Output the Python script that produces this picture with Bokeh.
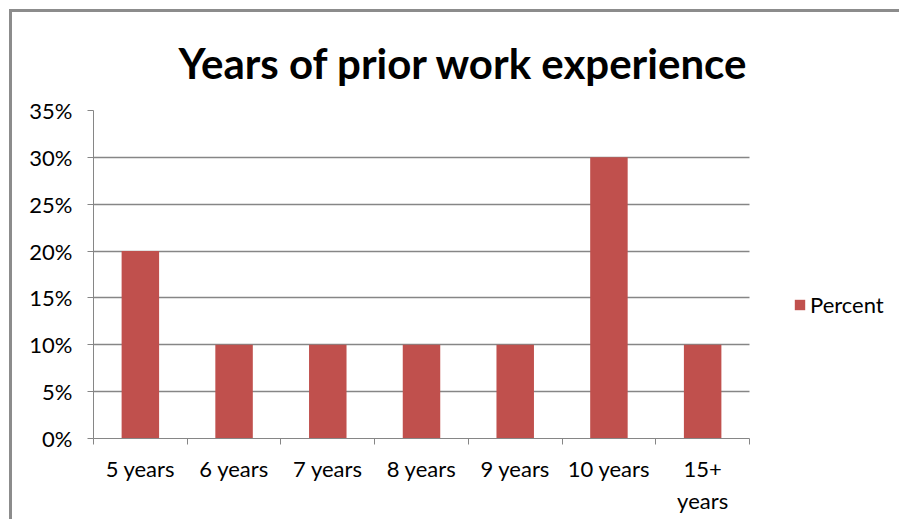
from bokeh.plotting import figure
from bokeh.models import (ColumnDataSource, FixedTicker, NumeralTickFormatter,
                          Legend, LegendItem, Range1d)
from bokeh.embed import file_html
from bokeh.resources import INLINE

# ---- data ----
title_text = "Years of prior work experience"
categories = ["5 years", "6 years", "7 years", "8 years", "9 years", "10 years", "15+ years"]
tick_labels = ["5 years", "6 years", "7 years", "8 years", "9 years", "10 years", "15+\nyears"]
percent = [0.20, 0.10, 0.10, 0.10, 0.10, 0.30, 0.10]
y_ticks = [0.0, 0.05, 0.10, 0.15, 0.20, 0.25, 0.30, 0.35]
series_name = "Percent"

n = len(categories)
centers = [i + 0.5 for i in range(n)]
bounds = list(range(n + 1))
src = ColumnDataSource(dict(x=centers, pct=percent, cat=categories))

FONT = "Lato"
GRAY = "#868686"
BAR = "#C0504D"
TXT = "#000000"

# layout (pixels)
W, H = 890, 510
LEFT, RIGHT, TOP, BOTTOM = 81, 10, 98, 84
PLOT_W = 656                      # width used by the 7 categories
frame_w = W - LEFT - RIGHT
x_end = n * frame_w / PLOT_W      # extra room on the right holds the legend

p = figure(width=W, height=H,
           x_range=Range1d(0, x_end), y_range=Range1d(y_ticks[0], y_ticks[-1]),
           output_backend="svg", toolbar_location=None,
           min_border_left=LEFT, min_border_right=RIGHT,
           min_border_top=TOP, min_border_bottom=BOTTOM)
p.styles = {"border-top": "3px solid #8c8c8c", "border-left": "3px solid #8c8c8c",
            "margin-top": "9px", "margin-left": "9px"}
p.outline_line_color = None
p.background_fill_color = "white"
p.border_fill_color = "white"

r = p.vbar(x="x", top="pct", width=0.4, source=src,
           fill_color=BAR, line_color=None)

# title
p.title.text = title_text
p.title.align = "left"
p.title.offset = 85
p.title.standoff = 45
p.title.text_font = FONT
p.title.text_font_style = "bold"
p.title.text_font_size = "42px"
p.title.text_color = TXT

# x axis: labels at centers, tick marks at boundaries
p.xaxis.bounds = (0, n)
p.xaxis.ticker = FixedTicker(ticks=centers, minor_ticks=bounds)
p.xaxis.major_label_overrides = {c: t for c, t in zip(centers, tick_labels)}
p.xaxis.major_tick_line_color = None
p.xaxis.major_tick_out = 0
p.xaxis.major_tick_in = 0
p.xaxis.minor_tick_line_color = GRAY
p.xaxis.minor_tick_out = 6
p.xaxis.minor_tick_in = 0
p.xaxis.axis_line_color = GRAY
p.xaxis.major_label_standoff = 10
p.xaxis.major_label_text_font = FONT
p.xaxis.major_label_text_font_size = "22px"
p.xaxis.major_label_text_color = TXT
p.xgrid.visible = False

# y axis
p.yaxis.ticker = FixedTicker(ticks=y_ticks)
p.yaxis.formatter = NumeralTickFormatter(format="0%")
p.yaxis.major_tick_line_color = GRAY
p.yaxis.major_tick_out = 6
p.yaxis.major_tick_in = 0
p.yaxis.minor_tick_line_color = None
p.yaxis.axis_line_color = GRAY
p.yaxis.major_label_standoff = 15
p.yaxis.major_label_text_font = FONT
p.yaxis.major_label_text_font_size = "22px"
p.yaxis.major_label_text_color = TXT
p.ygrid.grid_line_color = GRAY
p.ygrid.grid_line_width = 1.3
p.ygrid.cross_bounds = (0, n)

# legend (inside the widened frame, right of the bars)
legend = Legend(items=[LegendItem(label=series_name, renderers=[r])],
                location=(700, 120), padding=0, margin=0, spacing=0,
                glyph_width=13, glyph_height=13, label_standoff=4,
                label_text_font=FONT, label_text_font_size="22px",
                label_text_color=TXT, border_line_color=None,
                background_fill_alpha=0)
p.add_layout(legend)

open("out.html", "w").write(file_html(p, INLINE))
